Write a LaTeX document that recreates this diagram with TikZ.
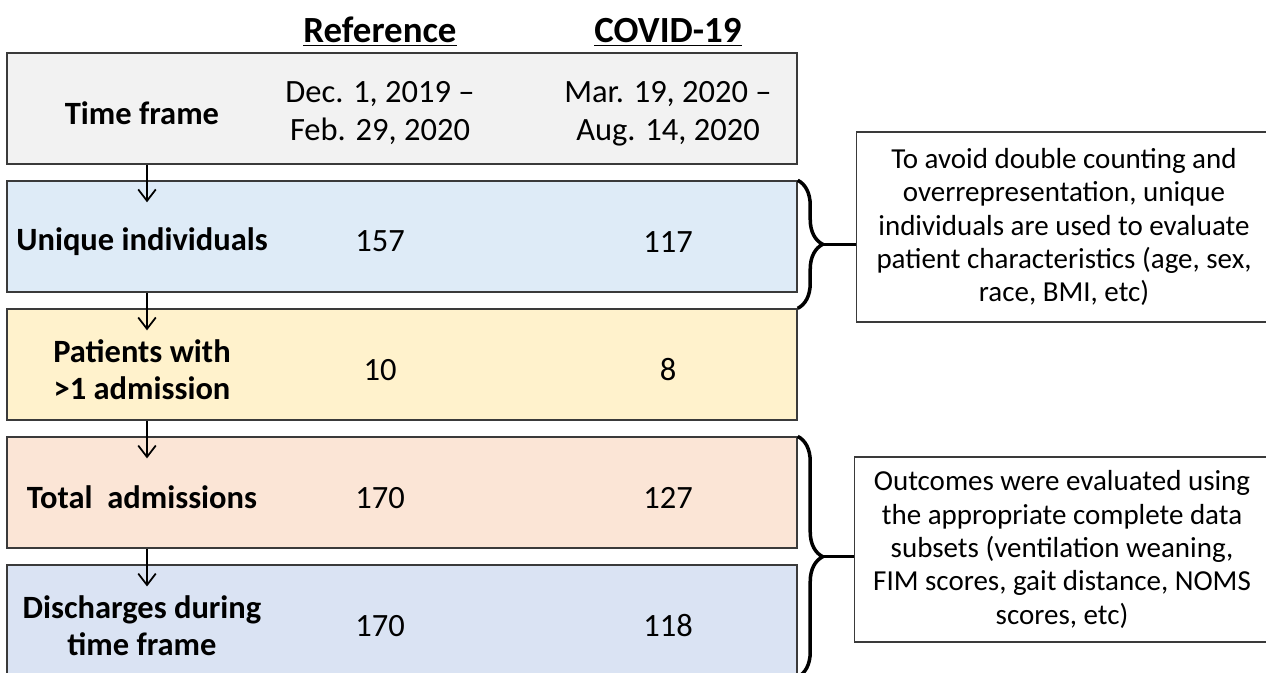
\documentclass[tikz,border=0pt]{standalone}
\usepackage{fontspec}
\setmainfont{Carlito}
\usetikzlibrary{positioning,arrows.meta,decorations.pathreplacing,calc}

\definecolor{tfgray}{HTML}{F2F2F2}
\definecolor{uiblue}{HTML}{DEEBF7}
\definecolor{pwyellow}{HTML}{FFF2CC}
\definecolor{taorange}{HTML}{FBE5D6}
\definecolor{dcblue}{HTML}{DAE3F3}
\definecolor{edgegray}{HTML}{3A3A3A}

\begin{document}
\begin{tikzpicture}[x=0.02cm,y=-0.02cm,>={Straight Barb[length=6.5pt,width=10pt]},
                    font=\fontsize{16.5}{19}\selectfont,
                    row/.style={draw=edgegray,line width=0.9pt,minimum width=15.8cm,
                                minimum height=2.22cm,inner sep=0pt},
                    lbl/.style={font=\fontsize{18.5}{21}\selectfont\bfseries,
                                align=center,yshift=-0.1cm},
                    num/.style={font=\fontsize{18.5}{21.6}\selectfont,align=center,yshift=-0.1cm},
                    hdr/.style={font=\fontsize{21}{24}\selectfont\bfseries},
                    note/.style={draw=edgegray,line width=0.9pt,align=center,
                                 minimum width=8.3cm},
                    flow/.style={->,line width=1pt,shorten >=-0.44cm},
                    brc/.style={decorate,decoration={brace,amplitude=0.5cm},line width=2pt}]
  \useasboundingbox (0,0) rectangle (1266,672);

  % columns
  \coordinate (c1) at (142,0);
  \coordinate (c2) at (380,0);
  \coordinate (c3) at (668,0);
  \coordinate (ar) at (147,0);

  \node[hdr] (hr) at (380,32) {\underline{Reference}};
  \node[hdr] (hc) at (668,32) {\underline{COVID-19}};

  \node[row,fill=tfgray]   (tf) at (402,108.5) {};
  \node[row,fill=uiblue]   (ui) [below=0.31cm of tf] {};
  \node[row,fill=pwyellow] (pw) [below=0.31cm of ui] {};
  \node[row,fill=taorange] (ta) [below=0.31cm of pw] {};
  \node[row,fill=dcblue]   (dc) [below=0.31cm of ta] {};

  \node[lbl] (tfl) at (tf -| c1) {Time frame};
  \node[num] (tfr) at (tf -| c2) {Dec. 1, 2019 --\\Feb. 29, 2020};
  \node[num] (tfc) at (tf -| c3) {Mar. 19, 2020 --\\Aug. 14, 2020};

  \node[lbl] (uil) at (ui -| c1) {Unique individuals};
  \node[num] (uir) at (ui -| c2) {157};
  \node[num] (uic) at (ui -| c3) {117};

  \node[lbl] (pwl) at (pw -| c1) {Patients with\\>1 admission};
  \node[num] (pwr) at (pw -| c2) {10};
  \node[num] (pwc) at (pw -| c3) {8};

  \node[lbl] (tal) at (ta -| c1) {Total~~admissions};
  \node[num] (tar) at (ta -| c2) {170};
  \node[num] (tac) at (ta -| c3) {127};

  \node[lbl] (dcl) at (dc -| c1) {Discharges during\\time frame};
  \node[num] (dcr) at (dc -| c2) {170};
  \node[num] (dcc) at (dc -| c3) {118};

  \foreach \a/\b in {tf/ui,ui/pw,pw/ta,ta/dc}
    \draw[flow] (\a.south -| ar) -- (\b.north -| ar);

  % side notes
  \node[note,minimum height=3.8cm] (n1) at (1064,227)
    {To avoid double counting and\\overrepresentation, unique\\individuals are used to evaluate\\
     patient characteristics (age, sex,\\race, BMI, etc)};
  \node[note,minimum height=3.7cm] (n2) at (1062,549.5)
    {Outcomes were evaluated using\\the appropriate complete data\\subsets (ventilation weaning,\\
     FIM scores, gait distance, NOMS\\scores, etc)};

  \draw[brc] (ui.north east) -- (pw.north east);
  \coordinate (b1) at ($(ui.north east)!0.5!(pw.north east)$);
  \draw[line width=2pt] ([xshift=0.5cm]b1) -- (b1 -| n1.west);

  \draw[brc] (ta.north east) -- (dc.south east);
  \coordinate (b2) at ($(ta.north east)!0.5!(dc.south east)$);
  \draw[line width=2pt] ([xshift=0.5cm]b2) -- (b2 -| n2.west);
\end{tikzpicture}
\end{document}
